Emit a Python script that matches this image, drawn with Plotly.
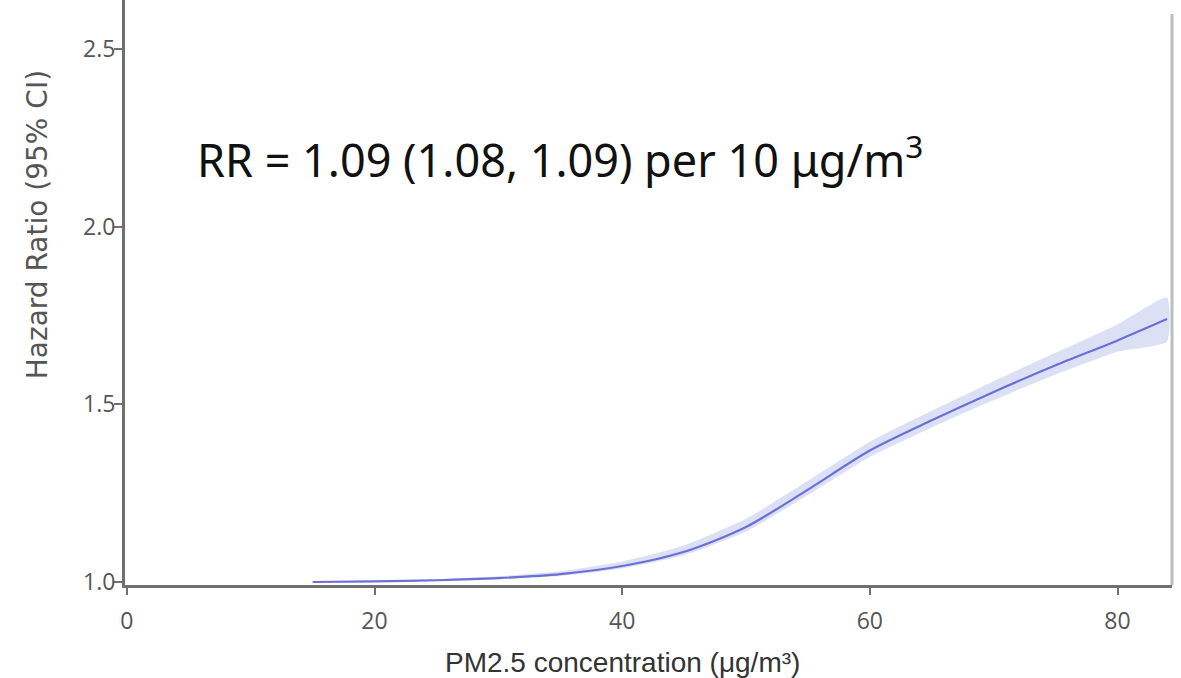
import plotly.graph_objects as go

# Data
pm25 = [15, 20, 25, 30, 35, 40, 45, 50, 55, 60, 65, 70, 75, 80, 84]
hr = [1.000, 1.002, 1.005, 1.011, 1.022, 1.045, 1.085, 1.155, 1.260, 1.370, 1.455, 1.535, 1.610, 1.680, 1.740]
hr_lower = [0.999, 1.000, 1.003, 1.008, 1.017, 1.038, 1.075, 1.142, 1.245, 1.352, 1.435, 1.512, 1.584, 1.648, 1.677]
hr_upper = [1.001, 1.004, 1.008, 1.016, 1.030, 1.058, 1.103, 1.178, 1.285, 1.395, 1.482, 1.565, 1.645, 1.725, 1.800]
x_ticks = [0, 20, 40, 60, 80]
y_ticks = [1.0, 1.5, 2.0, 2.5]
y_tick_text = ["1.0", "1.5", "2.0", "2.5"]
x_title = "PM2.5 concentration (μg/m³)"
y_title = "Hazard Ratio (95% CI)"
annotation_text = "RR = 1.09 (1.08, 1.09) per 10 μg/m<sup>3</sup>"

fig = go.Figure()
fig.add_trace(go.Scatter(
    x=pm25 + pm25[::-1], y=hr_upper + hr_lower[::-1],
    fill="toself", fillcolor="rgba(208,214,242,0.75)",
    line=dict(width=0, shape="spline", smoothing=0.5), mode="lines",
    hoverinfo="skip", showlegend=False,
))
fig.add_trace(go.Scatter(
    x=pm25, y=hr, mode="lines",
    line=dict(color="#6b6fd8", width=2.2, shape="spline", smoothing=0.8),
    showlegend=False,
))

fig.update_layout(
    width=1181, height=678,
    margin=dict(l=125, r=9, t=0, b=93),
    paper_bgcolor="white", plot_bgcolor="white",
    xaxis=dict(
        range=[-0.15, 84.4], tickmode="array", tickvals=x_ticks,
        showgrid=False, zeroline=False, automargin=False,
        showline=True, linecolor="#707070", linewidth=3,
        ticks="outside", ticklen=7, tickwidth=2, tickcolor="#707070",
        ticklabelstandoff=6,
        tickfont=dict(family="Open Sans", size=23, color="#555555"),
    ),
    yaxis=dict(
        range=[0.9916, 2.638], tickmode="array", tickvals=y_ticks, ticktext=y_tick_text,
        showgrid=False, zeroline=False, automargin=False,
        showline=True, linecolor="#707070", linewidth=3,
        ticks="outside", ticklen=8, tickwidth=2, tickcolor="#707070",
        ticklabelstandoff=-6,
        tickfont=dict(family="Open Sans", size=23, color="#555555"),
    ),
    shapes=[dict(type="line", xref="paper", yref="paper", x0=1, x1=1, y0=0, y1=0.976,
                 line=dict(color="#bdbdbd", width=3))],
    annotations=[
        dict(text=annotation_text, x=0.067, y=0.732, xref="paper", yref="paper",
             xanchor="left", yanchor="middle", showarrow=False,
             font=dict(family="Noto Sans", size=45, color="#111111")),
        dict(text=x_title, x=0.475, y=-0.133, xref="paper", yref="paper",
             xanchor="center", yanchor="middle", showarrow=False,
             font=dict(family="Liberation Sans", size=28, color="#333333")),
        dict(text=y_title, x=-0.084, y=0.615, xref="paper", yref="paper",
             xanchor="center", yanchor="middle", showarrow=False, textangle=-90,
             font=dict(family="DejaVu Sans", size=28, color="#555555")),
    ],
)

fig.write_html("out.html", config={"displayModeBar": False},
               post_script="document.body.style.margin='0px';")
